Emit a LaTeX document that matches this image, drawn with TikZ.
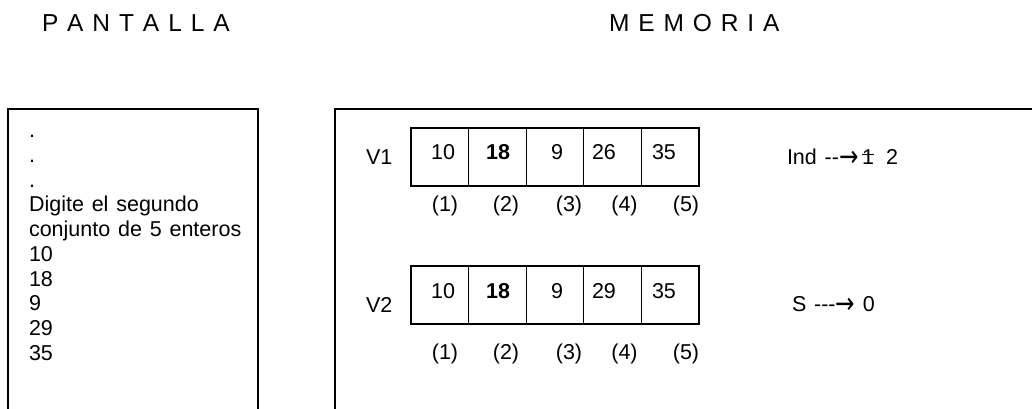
\documentclass[tikz,border=0pt]{standalone}
\usepackage{fontspec}
\usetikzlibrary{positioning}
\newfontfamily\drawfont{Liberation Sans}
\newfontfamily\titlefont{Liberation Sans}[WordSpace=1.31]
\newfontfamily\flechafont{DejaVu Sans}
\newcommand{\flecha}{\raisebox{-2.9pt}{\scalebox{1.08}[1.35]{\flechafont →}}}

\begin{document}
\begin{tikzpicture}[
  x=1pt, y=-1pt,
  every node/.style={
    font=\drawfont\fontsize{21.5}{24.67}\selectfont,
    inner sep=0pt, outer sep=0pt
  },
  titulo/.style={
    font=\titlefont\fontsize{24.5}{28}\selectfont,
    anchor=base west
  },
  marco/.style={draw=black, line width=1.3pt},
  celda/.style={
    draw=black, line width=1.3pt,
    minimum width=57.6pt, minimum height=58pt
  },
  valor/.style={anchor=base},
  indice/.style={anchor=base},
  etiqueta/.style={anchor=base west}
]
\useasboundingbox (0,0) rectangle (1032,408);

%% ═══ TITULOS ═══
\node[titulo] (tpant) at (42,31) {P A N T A L L A};
\node[titulo] (tmem) at (609,31) {M E M O R I A};

%% ═══ PANTALLA ═══
\draw[marco] (8,410) -- (8,109) -- (258,109) -- (258,410);

% base = baseline of the last line
\node[anchor=base west, align=left] (pantalla) at (29,360)
  {.\\.\\.\\Digite el segundo\\conjunto de 5 enteros\\10\\18\\9\\29\\35};

%% ═══ MEMORIA ═══
\draw[marco] (335,410) -- (335,109) -- (1034,109);

%% Vector V1
\node[etiqueta] (v1) at (366,164) {V1};
\foreach \i in {1,...,5}
  \node[celda] (v1c\i) at ({411+57.6*(\i-0.5)},157) {};

\node[valor] (v1n1) at (443,159) {10};
\node[valor] (v1n2) at (498,159) {\bfseries 18};
\node[valor] (v1n3) at (557,159) {9};
\node[valor, anchor=base west] (v1n4) at (592,159) {26};
\node[valor, anchor=base west] (v1n5) at (652,159) {35};

\node[indice] (v1i1) at (445,211) {(1)};
\node[indice] (v1i2) at (506,211) {(2)};
\node[indice] (v1i3) at (569,211) {(3)};
\node[indice] (v1i4) at (624.5,211) {(4)};
\node[indice] (v1i5) at (686,211) {(5)};

%% Vector V2
\node[etiqueta] (v2) at (366,312) {V2};
\foreach \i in {1,...,5}
  \node[celda] (v2c\i) at ({411+57.6*(\i-0.5)},295) {};

\node[valor] (v2n1) at (443,298) {10};
\node[valor] (v2n2) at (498,298) {\bfseries 18};
\node[valor] (v2n3) at (557,298) {9};
\node[valor, anchor=base west] (v2n4) at (592,298) {29};
\node[valor, anchor=base west] (v2n5) at (652,298) {35};

\node[indice] (v2i1) at (445,359.5) {(1)};
\node[indice] (v2i2) at (506,359.5) {(2)};
\node[indice] (v2i3) at (569,359.5) {(3)};
\node[indice] (v2i4) at (624.5,359.5) {(4)};
\node[indice] (v2i5) at (686,359.5) {(5)};

%% Variables
\node[etiqueta] (ind) at (787,164) {Ind --\flecha};
\node[etiqueta] (viejo) at (862,164) {1};
\node[etiqueta] (nuevo) at (886,164) {2};
\draw[line width=0.9pt] ([yshift=10pt]viejo.base west) -- ([yshift=10pt]viejo.base east);

\node[etiqueta] (suma) at (792,311) {S ---\flecha\ 0};

\end{tikzpicture}
\end{document}
